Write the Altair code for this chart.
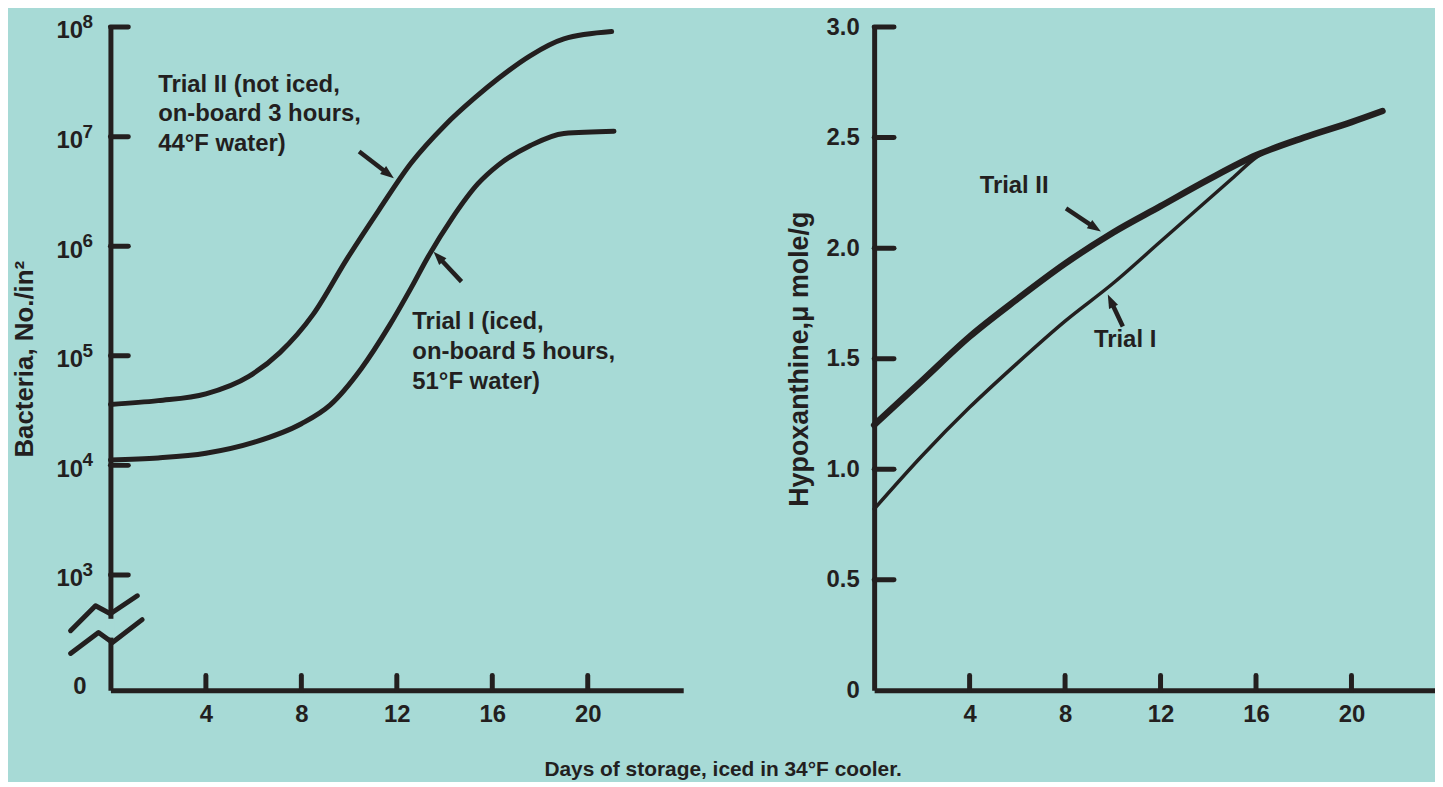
import altair as alt
import pandas as pd

INK = "#231F1F"
BG = "#A7DAD6"
FONT = "Liberation Sans"

# ---------------- data ----------------
# Left panel: bacteria, No./in^2 (log scale) vs days of storage
b_days_t2 = [0, 2, 4, 5.8, 7.1, 8.5, 9.9, 11.25, 12.6, 14.0, 15.3, 16.25, 17.6, 19.0, 21.0]
b_vals_t2 = [36000, 39000, 45000, 65000, 107000, 240000, 759000, 2140000, 5750000,
             12600000, 22900000, 33900000, 55000000, 78000000, 91000000]
b_days_t1 = [0, 2, 4, 6, 8, 9.2, 10.5, 11.7, 12.6, 13.3, 14.3, 15.4, 16.25, 17.6, 19.0, 21.1]
b_vals_t1 = [11200, 11700, 12900, 16200, 24000, 35500, 75900, 190500, 417000,
             794000, 1780000, 3720000, 5500000, 8300000, 10700000, 11200000]

# Right panel: hypoxanthine, micro-mole/g vs days of storage
h_days_t2 = [0, 2, 4, 6, 8, 10, 12, 14, 16, 18, 20, 21.3]
h_vals_t2 = [1.20, 1.40, 1.60, 1.77, 1.93, 2.07, 2.19, 2.31, 2.42, 2.50, 2.57, 2.62]
h_days_t1 = [0, 2, 4, 6, 8, 10, 12, 13, 14, 15, 16, 16.6]
h_vals_t1 = [0.82, 1.06, 1.28, 1.48, 1.67, 1.84, 2.03, 2.125, 2.22, 2.315, 2.41, 2.45]

# axes
x_ticks = [4, 8, 12, 16, 20]
b_ticks = [1e3, 1e4, 1e5, 1e6, 1e7, 1e8]
b_exponents = ["3", "4", "5", "6", "7", "8"]
h_ticks = [0.5, 1.0, 1.5, 2.0, 2.5, 3.0]
h_labels = [0, 0.5, 1.0, 1.5, 2.0, 2.5, 3.0]

# axis break symbol on the log axis (day, value) and the gap it cuts
break_upper_x = [-1.67, -0.625, 0, 1.125]
break_upper_y = [310, 523, 443, 646]
break_lower_x = [-1.67, -0.5, 0.083, 1.33]
break_lower_y = [192, 298, 242, 391]
gap_y = [398, 268]

# annotations (anchor in data units)
left_notes = ["Trial II (not iced,\non-board 3 hours,\n44°F water)",
              "Trial I (iced,\non-board 5 hours,\n51°F water)"]
left_note_x = [2.0, 12.65]
left_note_y = [38300000, 260000]
right_notes = ["Trial II", "Trial I"]
right_note_x = [4.42, 9.21]
right_note_y = [2.28, 1.583]

# arrows: tail -> tip (data units), heading angle of the arrowhead
left_arrow_tail_x = [10.42, 14.71]
left_arrow_tail_y = [7330000, 475000]
left_arrow_tip_x = [11.875, 13.54]
left_arrow_tip_y = [4170000, 891000]
left_arrow_angle = [127.6, 317]
right_arrow_tail_x = [8.04, 10.42]
right_arrow_tail_y = [2.18, 1.646]
right_arrow_tip_x = [9.5, 9.79]
right_arrow_tip_y = [2.075, 1.79]
right_arrow_angle = [123.3, 334.9]

# ---------------- layout constants ----------------
W_L = 576   # 24 px per day
W_R = 564
H = 667
HEAD = "M0,0L-0.55,1.5L0.55,1.5Z"

xs_l = alt.Scale(domain=[0, 24], nice=False, zero=False)
ys_l = alt.Scale(type="log", domain=[88.5, 1e8], nice=False)
xs_r = alt.Scale(domain=[0, 23.5], nice=False, zero=False)
ys_r = alt.Scale(domain=[0, 3.0], nice=False, zero=True)

lab = dict(labelFont=FONT, labelFontSize=24, labelFontWeight="bold", labelColor=INK)
dom = dict(domainColor=INK, domainWidth=5, ticks=False, grid=False)
ttl = dict(titleFont=FONT, titleFontWeight="bold", titleColor=INK)

x_axis = alt.Axis(values=x_ticks, labelPadding=12, title=None, format="d",
                  labelFlush=False, **lab, **dom)
yb_axis = alt.Axis(values=b_ticks, labelExpr="'10'", labelPadding=28, labelOffset=4,
                   labelBaseline="middle", title="Bacteria, No./in²", titlePadding=19,
                   titleFontSize=26, **lab, **dom, **ttl)
yh_axis = alt.Axis(values=h_labels,
                   labelExpr="datum.value == 0 ? '0' : format(datum.value, '.1f')",
                   labelPadding=15, labelBaseline="middle", labelFlush=False,
                   title="Hypoxanthine,μ mole/g", titlePadding=13, titleFontSize=27,
                   **lab, **dom, **ttl)


def XL(f):
    return alt.X(f, scale=xs_l, axis=x_axis)


def YL(f):
    return alt.Y(f, scale=ys_l, axis=yb_axis)


def XR(f):
    return alt.X(f, scale=xs_r, axis=x_axis)


def YR(f):
    return alt.Y(f, scale=ys_r, axis=yh_axis)


def arrow_df(tx, ty, px, py, ang, log):
    rows = []
    for a, b, c, d, e in zip(tx, ty, px, py, ang):
        if log:
            mid_y = b * (d / b) ** 0.75
        else:
            mid_y = b + (d - b) * 0.75
        rows.append({"tx": a, "ty": b, "mx": a + (c - a) * 0.75, "my": mid_y,
                     "px": c, "py": d, "angle": e})
    return pd.DataFrame(rows)


# ---------------- left panel ----------------
df_bt = pd.DataFrame({"y": b_ticks, "e": b_exponents})
df_xt = pd.DataFrame({"x": x_ticks})
df_curves_l = pd.DataFrame({
    "x": b_days_t2 + b_days_t1,
    "y": b_vals_t2 + b_vals_t1,
    "trial": ["II"] * len(b_days_t2) + ["I"] * len(b_days_t1),
})
df_break = pd.DataFrame({
    "x": break_upper_x + break_lower_x,
    "y": break_upper_y + break_lower_y,
    "g": ["u"] * 4 + ["l"] * 4,
})
df_gap = pd.DataFrame({"x": [0], "y": [gap_y[0]], "y2": [gap_y[1]]})
df_notes_l = pd.DataFrame({"x": left_note_x, "y": left_note_y, "t": left_notes})
df_arr_l = arrow_df(left_arrow_tail_x, left_arrow_tail_y, left_arrow_tip_x,
                    left_arrow_tip_y, left_arrow_angle, True)

curves_l = alt.Chart(df_curves_l).mark_line(color=INK, strokeWidth=5, interpolate="monotone",
                                            strokeCap="round").encode(
    x=XL("x:Q"), y=YL("y:Q"), detail="trial:N")
ytick_l = alt.Chart(df_bt).mark_rule(color=INK, strokeWidth=5, strokeCap="round").encode(
    y=YL("y:Q"), x=alt.value(0), x2=alt.value(18))
exps_l = alt.Chart(df_bt).mark_text(font=FONT, fontSize=19, fontWeight="bold", color=INK,
                                    align="left", baseline="middle", dy=-5).encode(
    y=YL("y:Q"), x=alt.value(-28), text="e:N")
xtick_l = alt.Chart(df_xt).mark_rule(color=INK, strokeWidth=5, strokeCap="round").encode(
    x=XL("x:Q"), y=alt.value(H), y2=alt.value(H - 15))
gap_l = alt.Chart(df_gap).mark_rule(color=BG, strokeWidth=9).encode(
    x=XL("x:Q"), y=YL("y:Q"), y2="y2:Q")
break_l = alt.Chart(df_break).mark_line(color=INK, strokeWidth=5, strokeCap="round",
                                        strokeJoin="round").encode(
    x=XL("x:Q"), y=YL("y:Q"), detail="g:N")
zero_l = alt.Chart(pd.DataFrame({"t": ["0"]})).mark_text(
    font=FONT, fontSize=24, fontWeight="bold", color=INK, align="right",
    baseline="middle", dy=-3).encode(x=alt.value(-24), y=alt.value(H), text="t:N")
notes_l = alt.Chart(df_notes_l).mark_text(
    font=FONT, fontSize=24, fontWeight="bold", color=INK, align="left",
    baseline="top", lineBreak="\n", lineHeight=30).encode(
    x=XL("x:Q"), y=YL("y:Q"), text="t:N")
shaft_l = alt.Chart(df_arr_l).mark_rule(color=INK, strokeWidth=4.5).encode(
    x=XL("tx:Q"), x2="mx:Q", y=YL("ty:Q"), y2="my:Q")
head_l = alt.Chart(df_arr_l).mark_point(shape=HEAD, filled=True, size=330, color=INK,
                                        opacity=1, strokeWidth=0).encode(
    x=XL("px:Q"), y=YL("py:Q"), angle=alt.Angle("angle:Q", scale=None))

left = alt.layer(curves_l, gap_l, break_l, ytick_l, xtick_l, exps_l, zero_l,
                 notes_l, shaft_l, head_l).properties(width=W_L, height=H)

# ---------------- right panel ----------------
df_ht = pd.DataFrame({"y": h_ticks})
df_t2 = pd.DataFrame({"x": h_days_t2, "y": h_vals_t2})
df_t1 = pd.DataFrame({"x": h_days_t1, "y": h_vals_t1})
df_notes_r = pd.DataFrame({"x": right_note_x, "y": right_note_y, "t": right_notes})
df_arr_r = arrow_df(right_arrow_tail_x, right_arrow_tail_y, right_arrow_tip_x,
                    right_arrow_tip_y, right_arrow_angle, False)

t2_r = alt.Chart(df_t2).mark_line(color=INK, strokeWidth=6.5, interpolate="monotone",
                                  strokeCap="round").encode(x=XR("x:Q"), y=YR("y:Q"))
t1_r = alt.Chart(df_t1).mark_line(color=INK, strokeWidth=3.5, interpolate="monotone",
                                  strokeCap="round").encode(x=XR("x:Q"), y=YR("y:Q"))
ytick_r = alt.Chart(df_ht).mark_rule(color=INK, strokeWidth=5, strokeCap="round").encode(
    y=YR("y:Q"), x=alt.value(0), x2=alt.value(20))
xtick_r = alt.Chart(df_xt).mark_rule(color=INK, strokeWidth=5, strokeCap="round").encode(
    x=XR("x:Q"), y=alt.value(H), y2=alt.value(H - 15))
notes_r = alt.Chart(df_notes_r).mark_text(
    font=FONT, fontSize=24, fontWeight="bold", color=INK, align="left",
    baseline="middle").encode(x=XR("x:Q"), y=YR("y:Q"), text="t:N")
shaft_r = alt.Chart(df_arr_r).mark_rule(color=INK, strokeWidth=4.5).encode(
    x=XR("tx:Q"), x2="mx:Q", y=YR("ty:Q"), y2="my:Q")
head_r = alt.Chart(df_arr_r).mark_point(shape=HEAD, filled=True, size=330, color=INK,
                                        opacity=1, strokeWidth=0).encode(
    x=XR("px:Q"), y=YR("py:Q"), angle=alt.Angle("angle:Q", scale=None))

right = alt.layer(t2_r, t1_r, ytick_r, xtick_r, notes_r, shaft_r, head_r).properties(
    width=W_R, height=H)

chart = alt.hconcat(left, right, spacing=102).properties(
    title=alt.TitleParams("Days of storage, iced in 34°F cooler.", orient="bottom",
                          anchor="middle", font=FONT, fontSize=21, fontWeight="bold",
                          color=INK, offset=33),
    padding={"left": 3, "top": 3, "right": 0, "bottom": 0},
    background=BG,
).configure_view(stroke=None)

chart.save("out.html", embed_options={"renderer": "svg", "actions": False})
